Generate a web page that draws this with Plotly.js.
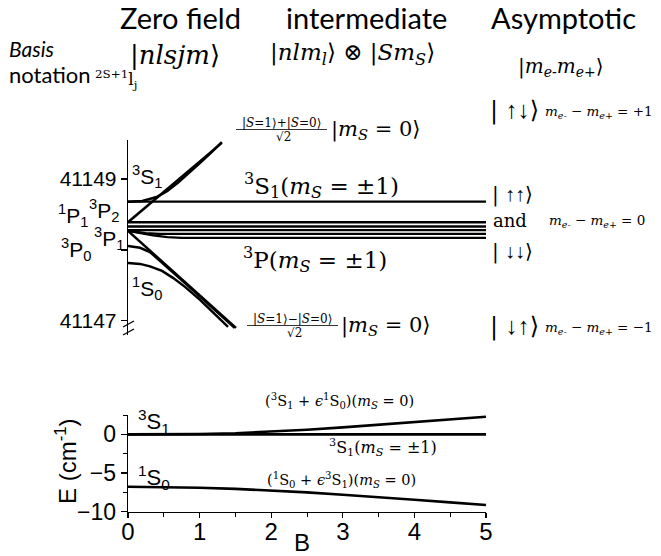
<!DOCTYPE html>
<html>
<head>
<meta charset="utf-8">
<script src="https://cdn.plot.ly/plotly-3.0.1.min.js"></script>
<style>html,body{margin:0;padding:0;background:#fff;}#chart{width:661px;height:556px;}</style>
</head>
<body>
<div id="chart"></div>
<script>
// ---------- Data: upper panel (energy in cm^-1, field B) ----------
const B_flat = [0, 5];
const E_3S1_pm = [41148.68, 41148.68];
const E_3P_a = [41148.39, 41148.39];
const E_3P_b = [41148.33, 41148.33];
const E_3P_c = [41148.28, 41148.28];
const B_3P_d = [0, 0.1, 0.25, 0.45, 5];
const E_3P_d = [41148.27, 41148.255, 41148.235, 41148.225, 41148.225];
const B_3P_e = [0, 0.15, 0.35, 0.55, 0.75, 5];
const E_3P_e = [41148.27, 41148.24, 41148.205, 41148.18, 41148.17, 41148.17];
const B_up_curve = [0, 0.2, 0.4, 0.55, 0.7, 0.85, 1.0, 1.15, 1.31];
const E_up_curve = [41148.68, 41148.69, 41148.745, 41148.83, 41148.95, 41149.08, 41149.22, 41149.36, 41149.52];
const B_up_line = [0, 1.31];
const E_up_line = [41148.39, 41149.51];
const B_down_line = [0, 1.508];
const E_down_line = [41148.268, 41146.90];
const B_1P1 = [0, 0.168, 0.307, 0.447, 0.587, 0.726, 1.0, 1.3, 1.49];
const E_1P1 = [41148.056, 41148.03, 41147.97, 41147.85, 41147.72, 41147.595, 41147.347, 41147.075, 41146.90];
const B_1S0 = [0, 0.168, 0.307, 0.475, 0.628, 0.796, 1.006, 1.201, 1.397];
const E_1S0 = [41147.817, 41147.803, 41147.768, 41147.704, 41147.606, 41147.479, 41147.296, 41147.113, 41146.915];
const topTickVals = [41147, 41148, 41149];
const topTickText = ['41147', '', '41149'];

// ---------- Data: lower panel ----------
const B_low = [0, 0.5, 1, 1.5, 2, 2.5, 3, 3.5, 4, 4.5, 5];
const E_S1_mix = [0, 0, 0.05, 0.15, 0.35, 0.6, 0.9, 1.25, 1.6, 1.95, 2.27];
const E_S1_pm = [0, 0, 0, 0, 0, 0, 0, 0, 0, 0, 0];
const E_S0_mix = [-6.77, -6.8, -6.9, -7.05, -7.25, -7.5, -7.8, -8.1, -8.45, -8.8, -9.13];
const lowTickVals = [-10, -5, 0];
const lowXTicks = [0, 1, 2, 3, 4, 5];

// ---------- helpers ----------
const W = 661, H = 556;
const px = x => x / W;
const py = y => 1 - y / H;
const SANS = 'Liberation Sans';
const HEAD = 'Lato';
const SERIF = 'DejaVu Serif';

function line(x, y, xa, ya, w) {
  return {x: x, y: y, xaxis: xa, yaxis: ya, type: 'scatter', mode: 'lines',
    line: {color: '#000', width: w || 2.3}, hoverinfo: 'skip', showlegend: false};
}

const traces = [
  line(B_flat, E_3S1_pm, 'x', 'y'),
  line(B_flat, E_3P_a, 'x', 'y'),
  line(B_flat, E_3P_b, 'x', 'y'),
  line(B_flat, E_3P_c, 'x', 'y'),
  line(B_3P_d, E_3P_d, 'x', 'y'),
  line(B_3P_e, E_3P_e, 'x', 'y'),
  line(B_up_curve, E_up_curve, 'x', 'y', 2.5),
  line(B_up_line, E_up_line, 'x', 'y', 2.5),
  line(B_down_line, E_down_line, 'x', 'y', 2.5),
  line(B_1P1, E_1P1, 'x', 'y', 2.5),
  line(B_1S0, E_1S0, 'x', 'y', 2.5),
  line(B_low, E_S1_mix, 'x2', 'y2', 2.6),
  line(B_low, E_S1_pm, 'x2', 'y2', 2.6),
  line(B_low, E_S0_mix, 'x2', 'y2', 2.6)
];

function ann(text, x, y, size, family, xanchor, extra) {
  return Object.assign({text: text, xref: 'paper', yref: 'paper', x: px(x), y: py(y),
    xanchor: xanchor || 'left', yanchor: 'middle', showarrow: false,
    font: {size: size, family: family, color: '#000'}}, extra || {});
}

const mS = '<i>m<sub>S</sub></i>';
const arr = s => '<span style="font-family:Liberation Sans">' + s + '</span>';
const annotations = [
  ann('Zero field', 180, 17, 29, HEAD, 'center'),
  ann('intermediate', 366, 17, 29, HEAD, 'center'),
  ann('Asymptotic', 563, 17, 29, HEAD, 'center'),
  ann('<i>Basis</i>', 7, 48, 21, HEAD),
  ann('notation', 7, 74, 22, HEAD),
  ann('<sup>2S+1</sup>l<sub>j</sub>', 93, 79, 17, SERIF),
  ann('|<i>nlsjm</i>⟩', 128, 55, 26, SERIF),
  ann('|<i>nlm<sub>l</sub></i>⟩ ⊗ |<i>Sm<sub>S</sub></i>⟩', 352, 54, 23, SERIF, 'center'),
  ann('|<i>m<sub>e-</sub>m<sub>e+</sub></i>⟩', 516, 67, 20, SERIF),
  ann('| ' + arr('↑↓') + '⟩', 488, 110, 24, SERIF),
  ann('<i>m<sub>e-</sub></i> − <i>m<sub>e+</sub></i> = +1', 543, 112, 13.5, SERIF),
  // upper-panel state labels
  ann('<sup>3</sup>S<sub>1</sub>', 130, 176, 21, SANS),
  ann('<sup>1</sup>P<sub>1</sub>', 56, 215, 21, SANS),
  ann('<sup>3</sup>P<sub>2</sub>', 87, 210, 21, SANS),
  ann('<sup>3</sup>P<sub>1</sub>', 92, 238, 21, SANS),
  ann('<sup>3</sup>P<sub>0</sub>', 59, 249, 21, SANS),
  ann('<sup>1</sup>S<sub>0</sub>', 130, 288, 21, SANS),
  ann('<sup>3</sup>S<sub>1</sub>(' + mS + ' = ±1)', 242, 186, 23, SERIF),
  ann('<sup>3</sup>P(' + mS + ' = ±1)', 241, 259, 23, SERIF),
  ann('|<i>S</i>=1⟩+|<i>S</i>=0⟩', 281, 123, 12, SERIF, 'center'),
  ann('√2', 283, 137, 12, SERIF, 'center'),
  ann('|' + mS + ' = 0⟩', 329, 130, 21, SERIF),
  ann('| ' + arr('↑↑') + '⟩', 490, 194, 20, SERIF),
  ann('and', 491, 221, 18, SERIF),
  ann('| ' + arr('↓↓') + '⟩', 490, 251, 20, SERIF),
  ann('<i>m<sub>e-</sub></i> − <i>m<sub>e+</sub></i> = 0', 547, 221, 13.5, SERIF),
  ann('|<i>S</i>=1⟩−|<i>S</i>=0⟩', 292, 319, 12, SERIF, 'center'),
  ann('√2', 294, 333, 12, SERIF, 'center'),
  ann('|' + mS + ' = 0⟩', 339, 326, 21, SERIF),
  ann('| ' + arr('↓↑') + '⟩', 488, 326, 24, SERIF),
  ann('<i>m<sub>e-</sub></i> − <i>m<sub>e+</sub></i> = −1', 543, 328, 13.5, SERIF),
  // lower panel
  ann('<sup>3</sup>S<sub>1</sub>', 136, 421, 22, SANS),
  ann('<sup>1</sup>S<sub>0</sub>', 136, 477, 22, SANS),
  ann('(<sup>3</sup>S<sub>1</sub> + <i>ϵ</i><sup>1</sup>S<sub>0</sub>)(' + mS + ' = 0)', 339, 401, 14.5, SERIF, 'center'),
  ann('<sup>3</sup>S<sub>1</sub>(' + mS + ' = ±1)', 383, 447, 16, SERIF, 'center'),
  ann('(<sup>1</sup>S<sub>0</sub> + <i>ϵ</i><sup>3</sup>S<sub>1</sub>)(' + mS + ' = 0)', 341, 480, 14.5, SERIF, 'center'),
  ann('E (cm<sup>-1</sup>)', 66, 461, 24, SANS, 'center', {textangle: -90}),
  ann('B', 302, 542, 24, SANS, 'center')
];

const shapes = [
  {type: 'line', xref: 'paper', yref: 'paper', x0: px(236), x1: px(327), y0: py(129.5), y1: py(129.5), line: {color: '#000', width: 0.8}},
  {type: 'line', xref: 'paper', yref: 'paper', x0: px(247), x1: px(338), y0: py(325.5), y1: py(325.5), line: {color: '#000', width: 0.8}},
  {type: 'line', xref: 'paper', yref: 'paper', x0: px(123), x1: px(134), y0: py(327), y1: py(321), line: {color: '#000', width: 1.3}},
  {type: 'line', xref: 'paper', yref: 'paper', x0: px(123), x1: px(134), y0: py(335), y1: py(329), line: {color: '#000', width: 1.3}}
];

const layout = {
  width: W, height: H,
  margin: {l: 0, r: 0, t: 0, b: 0},
  paper_bgcolor: '#fff', plot_bgcolor: 'rgba(0,0,0,0)',
  showlegend: false,
  xaxis: {domain: [px(128), px(486)], range: [0, 5], anchor: 'y', visible: false, fixedrange: true},
  yaxis: {domain: [py(335), py(140)], range: [41146.80, 41149.55], anchor: 'x',
    showline: true, linecolor: '#000', linewidth: 1.3, ticks: 'outside', ticklen: 6, tickwidth: 1.3, tickcolor: '#000',
    tickmode: 'array', tickvals: topTickVals, ticktext: topTickText, showgrid: false, zeroline: false,
    tickfont: {size: 21, family: SANS, color: '#000'}},
  xaxis2: {domain: [px(128), px(486)], range: [0, 5], anchor: 'y2',
    showline: true, linecolor: '#000', linewidth: 1.3, ticks: 'outside', ticklen: 5, tickwidth: 1.3, tickcolor: '#000',
    tickmode: 'array', tickvals: lowXTicks, showgrid: false, zeroline: false, ticklabelstandoff: -7,
    minor: {ticks: 'outside', dtick: 0.5, ticklen: 4, tickcolor: '#000', tickwidth: 1, showgrid: false},
    tickfont: {size: 24, family: SANS, color: '#000'}},
  yaxis2: {domain: [py(511.7), py(415)], range: [-10, 2.5], anchor: 'x2',
    showline: true, linecolor: '#000', linewidth: 1.3, ticks: 'outside', ticklen: 6, tickwidth: 1.3, tickcolor: '#000',
    tickmode: 'array', tickvals: lowTickVals, showgrid: false, zeroline: false,
    minor: {ticks: 'outside', dtick: 2.5, ticklen: 4, tickcolor: '#000', tickwidth: 1, showgrid: false},
    tickfont: {size: 23, family: SANS, color: '#000'}},
  annotations: annotations,
  shapes: shapes
};

Plotly.newPlot('chart', traces, layout, {staticPlot: true, displayModeBar: false});
</script>
</body>
</html>
